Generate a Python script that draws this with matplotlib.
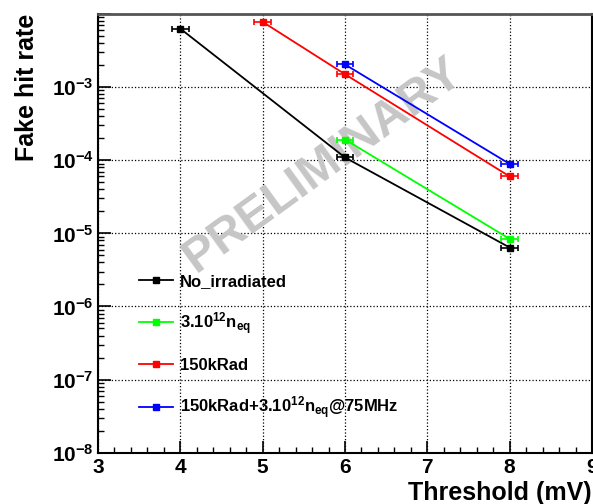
import math
import matplotlib
matplotlib.use('Agg')
import matplotlib.pyplot as plt
from matplotlib.ticker import MultipleLocator, FixedLocator, LogLocator, FuncFormatter, NullFormatter

plt.rcParams['font.family'] = ['Liberation Sans', 'DejaVu Sans']
plt.rcParams['font.weight'] = 'bold'
plt.rcParams['mathtext.fontset'] = 'custom'
plt.rcParams['mathtext.rm'] = 'Liberation Sans:bold'
plt.rcParams['mathtext.bf'] = 'Liberation Sans:bold'
plt.rcParams['mathtext.default'] = 'bf'

# threshold (mV) and fake hit rate per sample
x_noirr = [4, 6, 8]
y_noirr = [6.3e-3, 1.09e-4, 6.4e-6]
x_neq = [6, 8]
y_neq = [1.92e-4, 8.4e-6]
x_krad = [5, 6, 8]
y_krad = [7.8e-3, 1.5e-3, 6.0e-5]
x_both = [6, 8]
y_both = [2.04e-3, 8.9e-5]
xerr = 0.1

series = [
    (x_noirr, y_noirr, 'black', 'No_irradiated'),
    (x_neq, y_neq, '#00ff00', r'3.10$^{12}$n$_{eq}$'),
    (x_krad, y_krad, '#ff0000', '150kRad'),
    (x_both, y_both, '#0000ff', r'150kRad+3.10$^{12}$n$_{eq}$@75MHz'),
]

fig = plt.figure(figsize=(5.93, 5.04), dpi=100)
ax = fig.add_axes([98/593, 51.3/504, 494/593, 438.7/504])

for xs, ys, c, lab in series:
    ax.plot(xs, ys, '-s', color=c, lw=1.3, ms=5, label=lab, zorder=4)
    ax.errorbar(xs, ys, xerr=xerr, fmt='none', ecolor=c, elinewidth=1.2,
                capsize=2, capthick=1.2, zorder=4)

ax.set_yscale('log')
ax.set_xlim(3, 9)
ax.set_ylim(1e-8, 1e-2)

ax.xaxis.set_major_locator(MultipleLocator(1))
ax.xaxis.set_minor_locator(MultipleLocator(0.2))
ax.yaxis.set_major_locator(FixedLocator([1e-8, 1e-7, 1e-6, 1e-5, 1e-4, 1e-3, 1e-2]))
ax.yaxis.set_minor_locator(LogLocator(base=10, subs=range(2, 10), numticks=20))
ax.yaxis.set_minor_formatter(NullFormatter())


def fmt_y(v, pos):
    # no label on the top decade
    if v > 5e-3:
        return ''
    return r'$10^{%d}$' % round(math.log10(v))


ax.yaxis.set_major_formatter(FuncFormatter(fmt_y))
ax.tick_params(which='major', direction='in', length=9, width=1.2, labelsize=15, pad=4)
ax.tick_params(which='minor', direction='in', length=4.5, width=1.0)
ax.tick_params(axis='y', which='major', pad=3)

ax.grid(True, which='major', color='black', linestyle=':', linewidth=0.9)

for s in ['left', 'bottom']:
    ax.spines[s].set_linewidth(1.5)
ax.spines['top'].set_color('#555555')
ax.spines['top'].set_linewidth(2)
ax.spines['right'].set_linewidth(1.5)

ax.set_xlabel('Threshold (mV)', fontsize=18, fontweight='bold', loc='right')
ax.xaxis.set_label_coords(1.0, -0.064)
ax.set_ylabel('Fake hit rate', fontsize=18, fontweight='bold', loc='top')
ax.yaxis.set_label_coords(-0.12, 1.0)

ax.text(0.455, 0.656, 'PRELIMINARY', transform=ax.transAxes, fontsize=35,
        fontweight='bold', color='#c6c6c6', rotation=36, ha='center', va='center',
        rotation_mode='anchor', zorder=2)

leg = ax.legend(loc='upper left', bbox_to_anchor=(0.067, 0.427), frameon=False,
                fontsize=12, handlelength=2.0, handletextpad=0.45,
                labelspacing=1.28, borderpad=0, markerscale=0.8)

fig.savefig('out.png', dpi=100)
